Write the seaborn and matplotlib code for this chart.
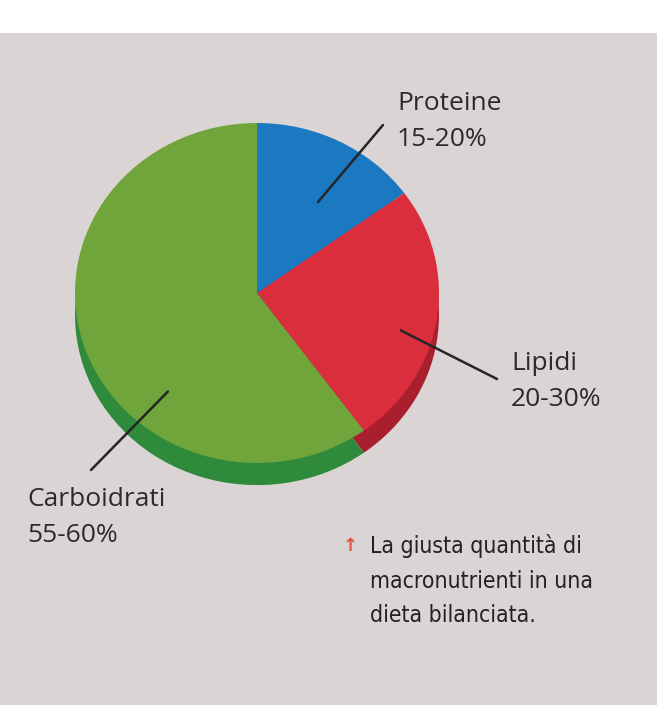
import matplotlib
matplotlib.use("Agg")
import matplotlib.pyplot as plt
import seaborn as sns
from matplotlib.patches import Rectangle

# data
nutrienti = ["Proteine", "Lipidi", "Carboidrati"]
quote = [15, 25, 60]
intervalli = ["15-20%", "20-30%", "55-60%"]
didascalia = ["La giusta quantità di", "macronutrienti in una", "dieta bilanciata."]

colori = ["#1a79c0", "#db2e3c", "#70a53b"]
colori_lato = ["#145c95", "#a91f2d", "#2f8a3b"]

sns.set_theme(style="white")
plt.rcParams["font.family"] = ["Open Sans", "DejaVu Sans"]

W, H = 668, 719
fig = plt.figure(figsize=(W / 100, H / 100), dpi=100)
fig.patch.set_facecolor("white")

# the page of the book
fig.patches.append(Rectangle((0, 14 / H), 657 / W, (705 - 33) / H, transform=fig.transFigure,
                             facecolor="#dbd4d5", edgecolor="none", zorder=-10))

# pie axes: centre (257, 293) px, radii 182 x 170 px
cx, cy, rx, ry = 257, 293, 182, 170
ax = fig.add_axes([(cx - rx) / W, (H - (cy + 1.2 * ry)) / H, 2 * rx / W, 2.2 * ry / H])
ax.set_facecolor("none")
ax.set_zorder(5)

# side of the 3d pie
ax.pie(quote, colors=colori_lato, startangle=90, counterclock=False, center=(0, -0.13),
       radius=1, wedgeprops=dict(linewidth=0))
wedges, _ = ax.pie(quote, colors=colori, startangle=90, counterclock=False, center=(0, 0),
                   radius=1, wedgeprops=dict(linewidth=0))
ax.set_aspect("auto")
ax.set_xlim(-1, 1)
ax.set_ylim(-1.2, 1)
ax.axis("off")

# leader lines: anchor on the pie (data) -> end near the label (pixels from top-left)
ancore = [(0.335, 0.535), (0.79, -0.22), (-0.49, -0.58)]
fine_linee = [(383, 125), (497, 379), (91, 470)]
for (ax_x, ax_y), (px, py) in zip(ancore, fine_linee):
    ax.annotate("", xy=(ax_x, ax_y), xycoords="data", xytext=(px, H - py),
                textcoords="figure pixels", annotation_clip=False,
                arrowprops=dict(arrowstyle="-", color="#262626", lw=1.8,
                                shrinkA=0, shrinkB=0))

# labels
pos_etichette = [(397, 110), (511, 370), (27, 506)]
for nome, interv, (px, py) in zip(nutrienti, intervalli, pos_etichette):
    fig.text(px / W, (H - py) / H, nome, fontsize=19, color="#2b2b2b", va="baseline")
    fig.text(px / W, (H - py - 36) / H, interv, fontsize=19, color="#2b2b2b", va="baseline")

# caption
fig.text(343 / W, (H - 551) / H, "↑", fontsize=13, color="#e0553c", va="baseline",
         family="DejaVu Sans", fontweight="bold")
for i, riga in enumerate(didascalia):
    fig.text(370 / W, (H - 553 - 34.5 * i) / H, riga, fontsize=16.5, color="#222222",
             va="baseline", family="DejaVu Sans", fontstretch="condensed")

fig.savefig("out.png", dpi=100)
